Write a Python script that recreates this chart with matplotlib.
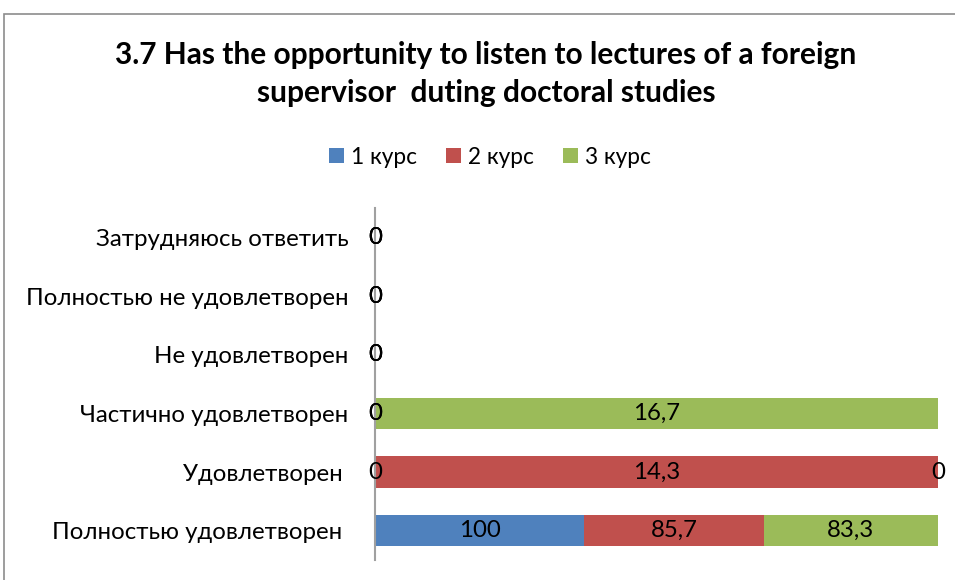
import numpy as np
import matplotlib
matplotlib.use("Agg")
import matplotlib.pyplot as plt
from matplotlib.patches import Rectangle

plt.rcParams['font.family'] = ['Lato', 'DejaVu Sans']

categories = ["Полностью удовлетворен ", "Удовлетворен ", "Частично удовлетворен",
              "Не удовлетворен", "Полностью не удовлетворен", "Затрудняюсь ответить"]
series_names = ["1 курс", "2 курс", "3 курс"]
kurs1 = [100, 0, 0, 0, 0, 0]
kurs2 = [85.7, 14.3, 0, 0, 0, 0]
kurs3 = [83.3, 0, 16.7, 0, 0, 0]
colors = ["#4F81BD", "#C0504D", "#9BBB59"]

title = "3.7 Has the opportunity to listen to lectures of a foreign\nsupervisor  duting doctoral studies"

W, H = 955, 580
fig = plt.figure(figsize=(W / 100, H / 100), dpi=100)
ax = fig.add_axes([375 / W, 1 - 560 / H, (938 - 375) / W, (560 - 208) / H])

data = np.array([kurs1, kurs2, kurs3], dtype=float)
totals = data.sum(axis=0)
share = np.divide(data, totals, out=np.zeros_like(data), where=totals > 0)

y = np.arange(len(categories))
left = np.zeros(len(categories))
for i, name in enumerate(series_names):
    ax.barh(y, share[i], left=left, height=0.53, color=colors[i], label=name)
    for j in range(len(categories)):
        v = data[i, j]
        txt = "0" if v == 0 else (f"{v:g}".replace(".", ","))
        ax.text(left[j] + share[i, j] / 2, y[j], txt, ha="center", va="center",
                fontsize=17.3, color="black")
    left = left + share[i]

ax.set_xlim(0, 1)
ax.set_ylim(-0.5, len(categories) - 0.5)
ax.set_yticks(y)
ax.set_yticklabels(categories, fontsize=17.3)
ax.tick_params(axis="y", length=0, pad=19)
ax.set_xticks([])
for s in ["top", "right", "bottom"]:
    ax.spines[s].set_visible(False)
ax.spines["left"].set_color("#A0A0A0")
ax.spines["left"].set_linewidth(1.5)

fig.text(486 / W, 1 - 74 / H, title, ha="center", va="center", fontsize=21.5,
         fontweight="bold", linespacing=1.45)

fig.legend(loc="center", bbox_to_anchor=(490 / W, 1 - 157 / H), ncol=3, frameon=False,
           fontsize=16.3, handlelength=0.65, handleheight=0.65, handletextpad=0.3,
           columnspacing=1.3)

fig.patches.append(Rectangle((4 / W, -0.02), 1.0, 1 - 14 / H + 0.02, transform=fig.transFigure,
                             fill=False, edgecolor="#8C8C8C", linewidth=1.2))

fig.savefig("out.png", dpi=100, facecolor="white")
